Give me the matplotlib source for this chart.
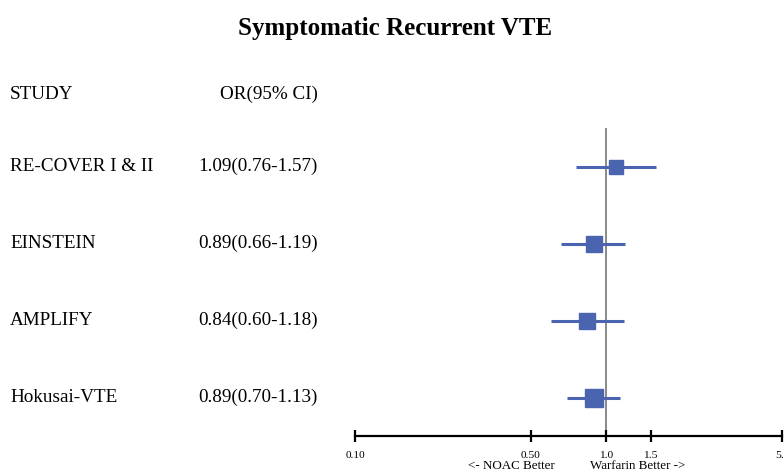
import matplotlib
matplotlib.use("Agg")
import matplotlib.pyplot as plt
import matplotlib.transforms as mtransforms

studies = ["RE-COVER I & II", "EINSTEIN", "AMPLIFY", "Hokusai-VTE"]
or_vals = [1.09, 0.89, 0.84, 0.89]
ci_low = [0.76, 0.66, 0.60, 0.70]
ci_high = [1.57, 1.19, 1.18, 1.13]
or_labels = ["1.09(0.76-1.57)", "0.89(0.66-1.19)", "0.84(0.60-1.18)", "0.89(0.70-1.13)"]
marker_sizes = [9.5, 11.5, 11.5, 13.5]
xticks = [0.10, 0.50, 1.0, 1.5, 5.0]
xtick_labels = ["0.10", "0.50", "1.0", "1.5", "5.0"]

plt.rcParams['font.family'] = ['Liberation Serif', 'DejaVu Serif']
color = '#4a64b0'

fig = plt.figure(figsize=(7.84, 4.74), dpi=100)
ax = fig.add_axes([355/784, 38/474, 427/784, 308/474])
ax.set_xscale('log')
ax.set_xlim(0.10, 5.0)
ax.set_ylim(-0.5, 3.5)

n = len(studies)
ys = [n - 1 - i for i in range(n)]

ax.axvline(1.0, color='#808080', lw=1.3, zorder=1)
for y, o, lo, hi, ms in zip(ys, or_vals, ci_low, ci_high, marker_sizes):
    ax.plot([lo, hi], [y, y], color=color, lw=2.2, solid_capstyle='butt', zorder=2)
    ax.plot([o], [y], marker='s', ms=ms, color=color, mec=color, zorder=3)

for s in ['top', 'right', 'left']:
    ax.spines[s].set_visible(False)
ax.spines['bottom'].set_linewidth(1.6)
ax.set_yticks([])
ax.set_xticks(xticks)
ax.set_xticklabels(xtick_labels)
ax.minorticks_off()
ax.tick_params(axis='x', direction='inout', length=8, width=1.6, labelsize=8.2, pad=7)

trans = mtransforms.blended_transform_factory(fig.transFigure, ax.transData)
fs = 13.8
for y, s, l in zip(ys, studies, or_labels):
    fig.text(10/784, y, s, transform=trans, ha='left', va='center', fontsize=fs)
    fig.text(318/784, y, l, transform=trans, ha='right', va='center', fontsize=fs)

header_y = 3.935
fig.text(10/784, header_y, "STUDY", transform=trans, ha='left', va='center', fontsize=fs)
fig.text(318/784, header_y, "OR(95% CI)", transform=trans, ha='right', va='center', fontsize=fs)

fig.text(395/784, 1 - 28/474, "Symptomatic Recurrent VTE", ha='center', va='center',
         fontsize=18, fontweight='bold')

fig.text(511/784, 1 - 466/474, "<- NOAC Better", ha='center', va='center', fontsize=9.4)
fig.text(638/784, 1 - 466/474, "Warfarin Better ->", ha='center', va='center', fontsize=9.4)

fig.savefig("out.png", dpi=100)
